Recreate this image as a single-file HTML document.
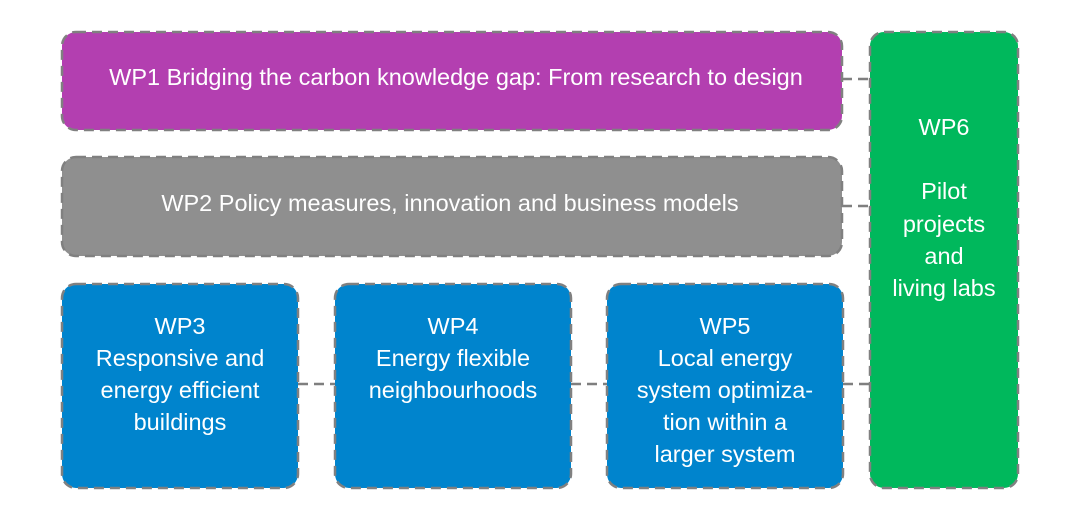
<!DOCTYPE html>
<html><head><meta charset="utf-8"><style>
html,body{margin:0;padding:0;background:#fff;width:1080px;height:525px;overflow:hidden}
svg text{font-family:"Liberation Sans",sans-serif;fill:#fff;font-size:23.5px;text-anchor:middle}
</style></head><body>
<svg width="1080" height="525" viewBox="0 0 1080 525">
<g stroke="#7f7f7f" stroke-width="2.5" stroke-dasharray="10,6" fill="none">
<line x1="842" y1="79" x2="870" y2="79"/>
<line x1="842" y1="206" x2="870" y2="206"/>
<line x1="298" y1="384" x2="335" y2="384"/>
<line x1="571" y1="384" x2="607" y2="384"/>
<line x1="843" y1="384" x2="870" y2="384"/>
</g>
<g stroke="#808080" stroke-width="2.5" stroke-dasharray="10,6">
<rect x="62" y="32" width="780" height="98" rx="14" fill="#b33fb0"/>
<rect x="62" y="157" width="780" height="99" rx="14" fill="#8f8f8f"/>
<rect x="62" y="284" width="236" height="204" rx="14" fill="#0084cd"/>
<rect x="335" y="284" width="236" height="204" rx="14" fill="#0084cd"/>
<rect x="607" y="284" width="236" height="204" rx="14" fill="#0084cd"/>
<rect x="870" y="32" width="148" height="456" rx="14" fill="#00b85c"/>
</g>
<text x="456" y="85" font-size="24.5">WP1 Bridging the carbon knowledge gap: From research to design</text>
<text x="450" y="211" font-size="24.5">WP2 Policy measures, innovation and business models</text>
<text x="180" y="334">WP3</text><text x="180" y="366">Responsive and</text><text x="180" y="398">energy efficient</text><text x="180" y="430">buildings</text>
<text x="453" y="334">WP4</text><text x="453" y="366">Energy flexible</text><text x="453" y="398">neighbourhoods</text>
<text x="725" y="334">WP5</text><text x="725" y="366">Local energy</text><text x="725" y="398">system optimiza-</text><text x="725" y="430">tion within a</text><text x="725" y="462">larger system</text>
<text x="944" y="135">WP6</text><text x="944" y="199">Pilot</text><text x="944" y="232">projects</text><text x="944" y="264">and</text><text x="944" y="296">living labs</text>
</svg>
</body></html>
